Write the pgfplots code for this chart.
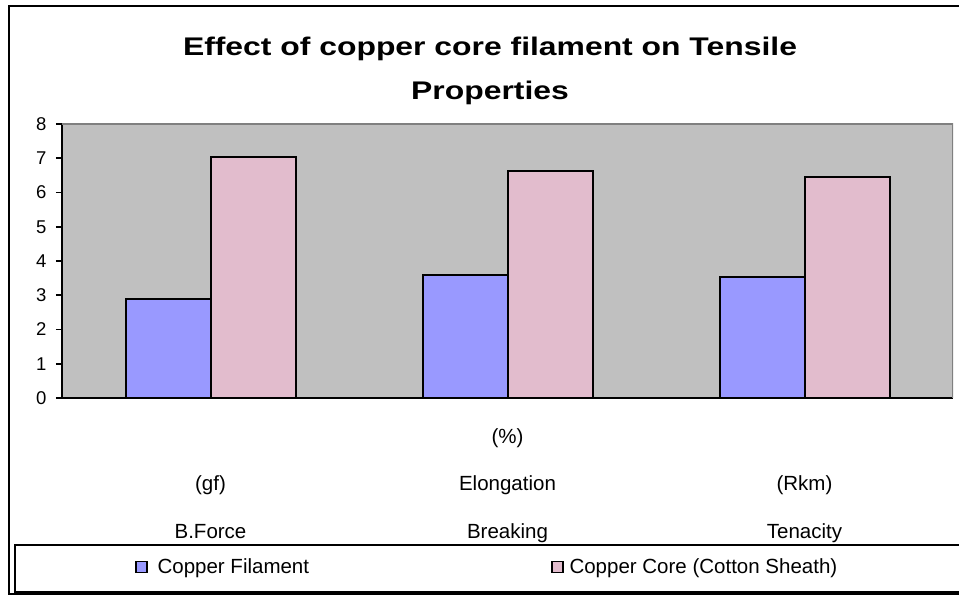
\documentclass[border=0pt]{standalone}
\usepackage{pgfplots}
\pgfplotsset{compat=1.18}
\usepackage{fontspec}
\setmainfont{Liberation Sans}
\newfontfamily\titlefont[FakeStretch=1.25]{Liberation Sans}

\definecolor{plotgray}{RGB}{192,192,192}
\definecolor{framegray}{RGB}{128,128,128}
\definecolor{filablue}{RGB}{153,153,255}
\definecolor{corepink}{RGB}{226,188,205}

\begin{document}
\begin{tikzpicture}[x=1pt,y=1pt]
\useasboundingbox (0,0) rectangle (959,596);

% outer frame and legend frame
\draw[line width=1.5pt] (9,2) rectangle (990,590);
\draw[line width=1.5pt] (15,4) rectangle (990,51);

% title
\node[anchor=base,font=\fontsize{25.5}{30}\titlefont\bfseries] at (490,540) {Effect of copper core filament on Tensile};
\node[anchor=base,font=\fontsize{25.5}{30}\titlefont\bfseries] at (490,496) {Properties};

\begin{axis}[
    at={(62pt,198pt)},
    anchor=south west,
    scale only axis,
    width=891pt,
    height=274pt,
    ybar=0pt,
    bar width=85pt,
    xmin=-0.5, xmax=2.5,
    ymin=0, ymax=8,
    ytick={0,1,...,8},
    xtick={0,1,2},
    xticklabels={{\vphantom{(}\\(gf)\\B.Force},{(\%)\\Elongation\\Breaking},{\vphantom{(}\\(Rkm)\\Tenacity}},
    xticklabel style={align=center, anchor=north, inner sep=0pt, yshift=-24pt,
        font=\fontsize{20.5}{47.5}\selectfont},
    yticklabel style={font=\fontsize{18.5}{20}\selectfont, xshift=-6pt},
    /pgf/number format/assume math mode=true,
    axis x line*=bottom,
    axis y line*=left,
    axis line style={-, line width=1.6pt},
    x tick style={draw=none},
    y tick style={line width=1.6pt, black},
    tick align=outside,
    major tick length=6pt,
    axis background/.style={fill=plotgray},
    legend columns=2,
    legend style={at={(0,0)}, anchor=west, xshift=73pt, yshift=-169pt,
        draw=none, fill=none, inner sep=0pt,
        font=\fontsize{20.5}{24}\selectfont},
    legend cell align=left,
]
\addplot[fill=filablue, draw=black, line width=2pt,
    legend image code/.code={\draw[fill=filablue,draw=black,line width=1.4pt] (0pt,-5.5pt) rectangle (11pt,5.5pt);}]
    coordinates {(0,2.89) (1,3.59) (2,3.53)};
\addlegendentry{\hspace*{8pt}Copper Filament\rule{240pt}{0pt}}
\addplot[fill=corepink, draw=black, line width=2pt,
    legend image code/.code={\draw[fill=corepink,draw=black,line width=1.4pt] (0pt,-5.5pt) rectangle (11pt,5.5pt);}]
    coordinates {(0,7.05) (1,6.63) (2,6.46)};
\addlegendentry{\hspace*{4pt}Copper Core (Cotton Sheath)}

\draw[framegray, line width=1.2pt] (rel axis cs:0,1) -- (rel axis cs:1,1) -- (rel axis cs:1,0);
\draw[line width=1.6pt] (axis cs:-0.5,0) -- ++(0pt,-144pt);
\draw[line width=1.6pt] (axis cs:0.5,0) -- ++(0pt,-144pt);
\draw[line width=1.6pt] (axis cs:1.5,0) -- ++(0pt,-144pt);
\draw[line width=1.6pt] (axis cs:2.5,0) -- ++(0pt,-144pt);
\end{axis}
\end{tikzpicture}
\end{document}
